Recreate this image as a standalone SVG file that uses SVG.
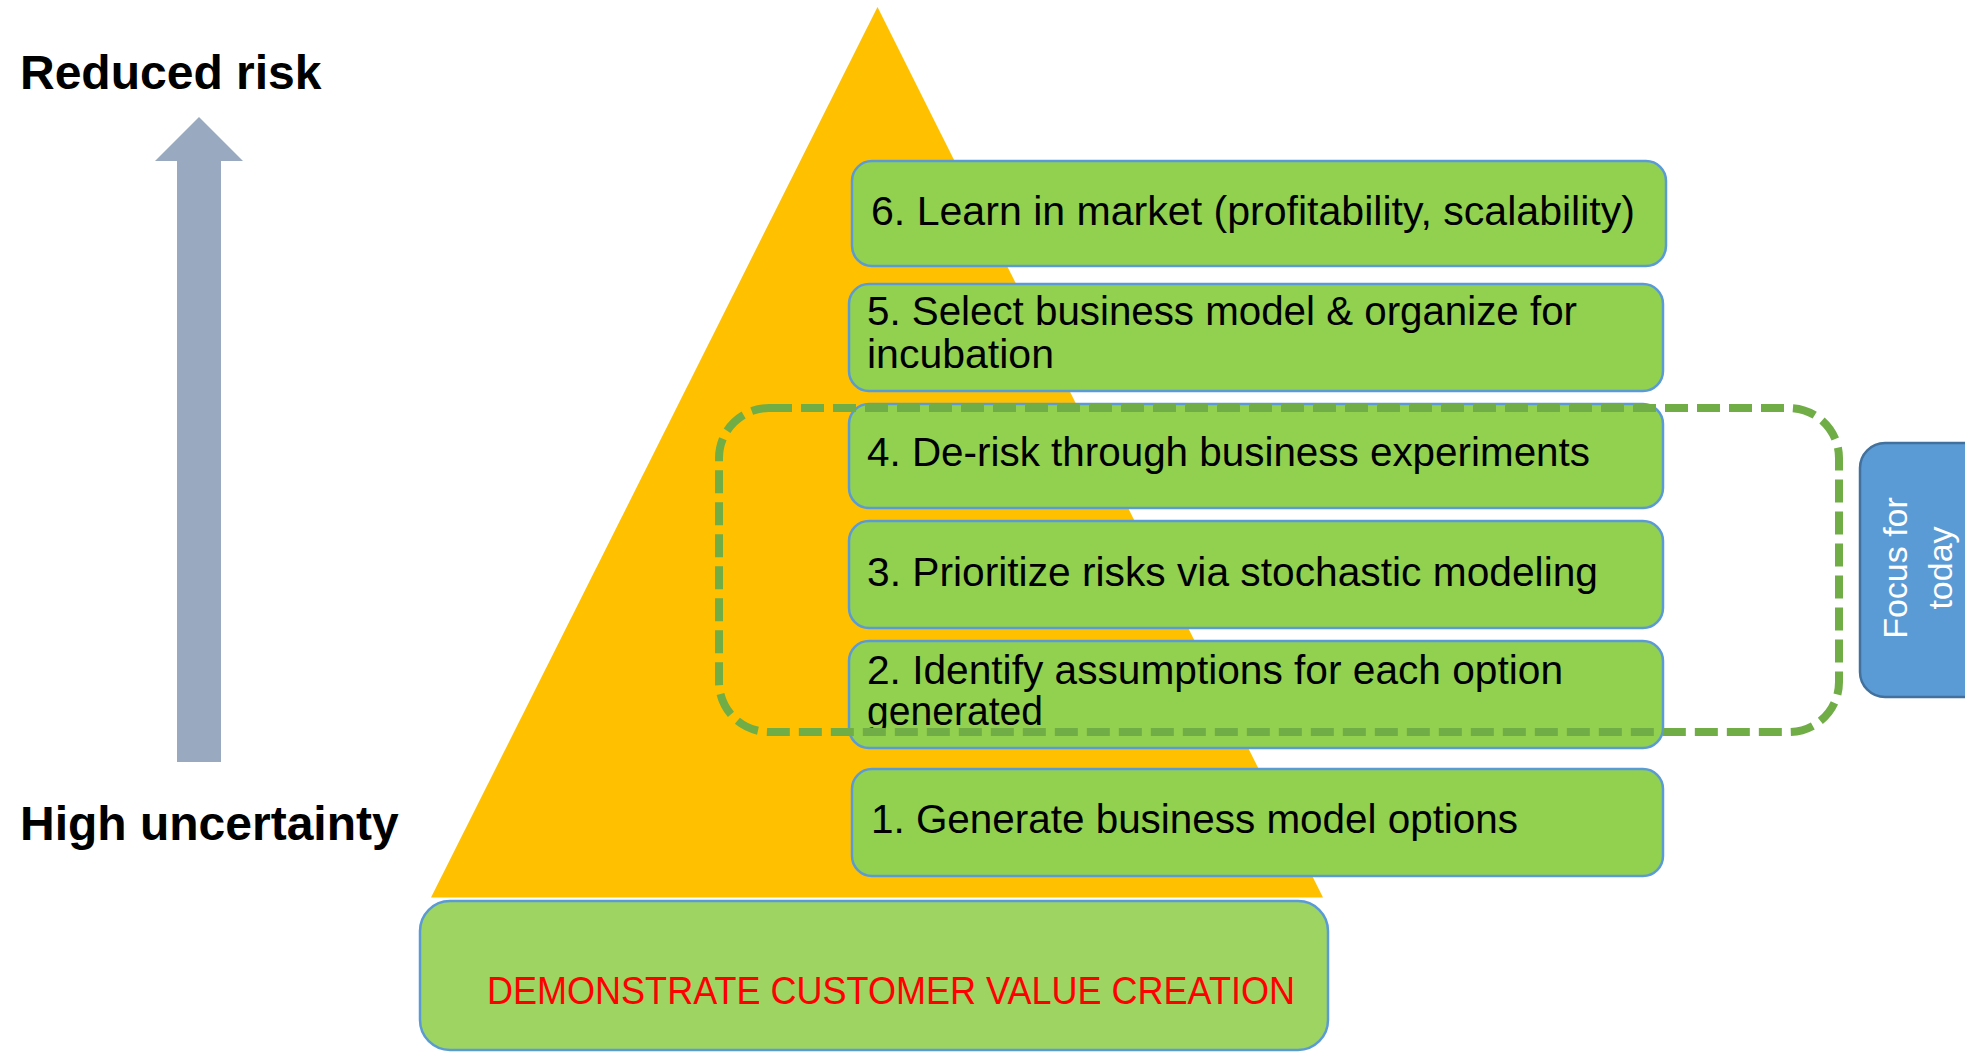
<svg xmlns="http://www.w3.org/2000/svg" width="1965" height="1052" viewBox="0 0 1965 1052">
  <style>
    .axis { font-family: "Liberation Sans", Arial, sans-serif; font-weight: bold; font-size: 48px; fill: #000; }
    .step rect { fill: #92D050; stroke: #5B9BD5; stroke-width: 2.5; }
    .step text { font-family: "Liberation Sans", Arial, sans-serif; font-size: 40px; fill: #000; }
    .base rect { fill: #9DD462; stroke: #5B9BD5; stroke-width: 2.5; }
    .base text { font-family: "Liberation Sans", Arial, sans-serif; font-size: 39px; fill: #FF0000; }
    .focus rect { fill: #5B9BD5; stroke: #41719C; stroke-width: 2.5; }
    .focus text { font-family: "Liberation Sans", Arial, sans-serif; font-size: 34px; fill: #FFFFFF; text-anchor: middle; }
  </style>
  <rect width="1965" height="1052" fill="#FFFFFF"/>

  <!-- axis labels and arrow -->
  <g id="label-reduced-risk"><text class="axis" x="20" y="89">Reduced risk</text></g>
  <g id="label-high-uncertainty"><text class="axis" x="20" y="840">High uncertainty</text></g>
  <g id="risk-arrow">
    <polygon points="199,117 243,161 221,161 221,762 177,762 177,161 155,161" fill="#98A9C0"/>
  </g>

  <!-- pyramid -->
  <g id="pyramid">
    <polygon points="877.5,7 1323,897.5 431,897.5" fill="#FFC000"/>
  </g>

  <!-- foundation -->
  <g id="base" class="base">
    <rect x="420" y="901" width="908" height="149" rx="30" ry="30"/>
    <text x="487" y="1004" textLength="808" lengthAdjust="spacingAndGlyphs">DEMONSTRATE CUSTOMER VALUE CREATION</text>
  </g>

  <!-- steps -->
  <g id="step6" class="step">
    <rect x="852" y="161" width="814" height="105" rx="20" ry="20"/>
    <text x="871" y="225" textLength="764" lengthAdjust="spacingAndGlyphs">6. Learn in market (profitability, scalability)</text>
  </g>
  <g id="step5" class="step">
    <rect x="849" y="284" width="814" height="107" rx="20" ry="20"/>
    <text x="867" y="325" textLength="710" lengthAdjust="spacingAndGlyphs">5. Select business model &amp; organize for</text>
    <text x="867" y="368" textLength="187" lengthAdjust="spacingAndGlyphs">incubation</text>
  </g>
  <g id="step4" class="step">
    <rect x="849" y="404" width="814" height="104" rx="20" ry="20"/>
    <text x="867" y="466" textLength="723" lengthAdjust="spacingAndGlyphs">4. De-risk through business experiments</text>
  </g>
  <g id="step3" class="step">
    <rect x="849" y="521" width="814" height="107" rx="20" ry="20"/>
    <text x="867" y="586" textLength="731" lengthAdjust="spacingAndGlyphs">3. Prioritize risks via stochastic modeling</text>
  </g>
  <g id="step2" class="step">
    <rect x="849" y="641" width="814" height="107" rx="20" ry="20"/>
    <text x="867" y="684" textLength="696" lengthAdjust="spacingAndGlyphs">2. Identify assumptions for each option</text>
    <text x="867" y="725" textLength="176" lengthAdjust="spacingAndGlyphs">generated</text>
  </g>
  <g id="step1" class="step">
    <rect x="852" y="769" width="811" height="107" rx="20" ry="20"/>
    <text x="871" y="833" textLength="647" lengthAdjust="spacingAndGlyphs">1. Generate business model options</text>
  </g>

  <!-- highlight around steps 2-4 -->
  <g id="focus-frame">
    <rect x="719" y="408" width="1120" height="324" rx="50" ry="50" fill="none" stroke="#70AD47" stroke-width="8" stroke-dasharray="23 9"/>
  </g>

  <!-- side tab -->
  <g id="focus-tab" class="focus">
    <rect x="1860" y="443" width="130" height="254" rx="25" ry="25"/>
    <text transform="translate(1907,568) rotate(-90)">Focus for</text>
    <text transform="translate(1952,568) rotate(-90)">today</text>
  </g>
</svg>
